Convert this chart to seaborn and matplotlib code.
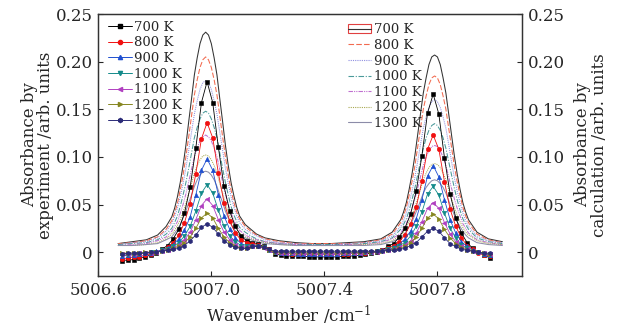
import matplotlib
matplotlib.use("Agg")
import matplotlib.pyplot as plt
from matplotlib.lines import Line2D
from matplotlib.patches import Patch
from matplotlib.legend_handler import HandlerTuple
import seaborn as sns

sns.set_style("ticks")
plt.rcParams['font.family'] = ['DejaVu Serif']
plt.rcParams['mathtext.fontset'] = 'dejavuserif'

temps = ["700 K", "800 K", "900 K", "1000 K", "1100 K", "1200 K", "1300 K"]

# measured spectra (left axis)
x_exp = [5006.685, 5006.705, 5006.725, 5006.745, 5006.765, 5006.785, 5006.805, 5006.825, 5006.845, 5006.865,
         5006.885, 5006.905, 5006.925, 5006.945, 5006.965, 5006.985, 5007.005, 5007.025, 5007.045, 5007.065,
         5007.085, 5007.105, 5007.125, 5007.145, 5007.165, 5007.185, 5007.205, 5007.225, 5007.245, 5007.265,
         5007.285, 5007.305, 5007.325, 5007.345, 5007.365, 5007.385, 5007.405, 5007.425, 5007.445, 5007.465,
         5007.485, 5007.505, 5007.525, 5007.545, 5007.565, 5007.585, 5007.605, 5007.625, 5007.645, 5007.665,
         5007.685, 5007.705, 5007.725, 5007.745, 5007.765, 5007.785, 5007.805, 5007.825, 5007.845, 5007.865,
         5007.885, 5007.905, 5007.925, 5007.945, 5007.965, 5007.985]

exp_700 = [-0.009, -0.008, -0.008, -0.006, -0.005, -0.003, -0.001, 0.003, 0.007, 0.014,
           0.024, 0.041, 0.068, 0.109, 0.157, 0.179, 0.157, 0.110, 0.069, 0.043,
           0.027, 0.017, 0.012, 0.010, 0.009, 0.006, 0.003, -0.002, -0.003, -0.004,
           -0.004, -0.004, -0.004, -0.005, -0.005, -0.005, -0.005, -0.005, -0.005, -0.004,
           -0.004, -0.004, -0.003, -0.002, -0.001, 0.000, 0.002, 0.006, 0.009, 0.016,
           0.025, 0.040, 0.064, 0.101, 0.146, 0.166, 0.145, 0.099, 0.061, 0.036,
           0.020, 0.010, 0.004, 0.000, -0.003, -0.006]
exp_800 = [-0.007, -0.006, -0.005, -0.005, -0.003, -0.002, 0.000, 0.002, 0.005, 0.010,
           0.018, 0.031, 0.051, 0.082, 0.119, 0.136, 0.120, 0.083, 0.052, 0.033,
           0.020, 0.013, 0.010, 0.009, 0.008, 0.005, 0.003, 0.000, -0.001, -0.001,
           -0.002, -0.002, -0.002, -0.002, -0.002, -0.002, -0.002, -0.002, -0.002, -0.002,
           -0.002, -0.001, -0.001, -0.001, 0.000, 0.001, 0.002, 0.004, 0.007, 0.011,
           0.018, 0.030, 0.047, 0.075, 0.108, 0.123, 0.108, 0.074, 0.045, 0.027,
           0.015, 0.007, 0.003, -0.001, -0.003, -0.004]
exp_900 = [-0.004, -0.003, -0.003, -0.002, -0.001, -0.001, 0.001, 0.002, 0.004, 0.008,
           0.014, 0.023, 0.037, 0.060, 0.086, 0.098, 0.086, 0.060, 0.038, 0.024,
           0.015, 0.009, 0.007, 0.007, 0.007, 0.005, 0.002, 0.000, -0.001, -0.001,
           -0.001, -0.002, -0.002, -0.002, -0.002, -0.002, -0.002, -0.002, -0.002, -0.001,
           -0.001, -0.001, -0.001, 0.000, 0.000, 0.001, 0.002, 0.003, 0.005, 0.008,
           0.014, 0.022, 0.035, 0.055, 0.080, 0.091, 0.079, 0.055, 0.034, 0.020,
           0.011, 0.006, 0.002, 0.000, -0.002, -0.003]
exp_1000 = [-0.003, -0.003, -0.002, -0.002, -0.001, 0.000, 0.000, 0.002, 0.003, 0.006,
            0.010, 0.017, 0.027, 0.043, 0.062, 0.071, 0.062, 0.044, 0.027, 0.017,
            0.011, 0.007, 0.006, 0.007, 0.006, 0.005, 0.002, 0.000, 0.000, -0.001,
            -0.001, -0.001, -0.001, -0.001, -0.001, -0.001, -0.001, -0.001, -0.001, -0.001,
            -0.001, -0.001, 0.000, 0.000, 0.000, 0.001, 0.001, 0.003, 0.004, 0.007,
            0.010, 0.017, 0.027, 0.042, 0.061, 0.069, 0.060, 0.041, 0.025, 0.015,
            0.008, 0.004, 0.001, 0.000, -0.002, -0.003]
exp_1100 = [-0.002, -0.002, -0.002, -0.001, -0.001, -0.001, 0.000, 0.001, 0.002, 0.004,
            0.008, 0.013, 0.021, 0.034, 0.049, 0.056, 0.049, 0.034, 0.021, 0.013,
            0.008, 0.005, 0.005, 0.006, 0.006, 0.004, 0.002, 0.000, -0.001, -0.001,
            -0.001, -0.001, -0.001, -0.001, -0.001, -0.001, -0.001, -0.001, -0.001, -0.001,
            -0.001, -0.001, -0.001, 0.000, 0.000, 0.000, 0.001, 0.002, 0.003, 0.005,
            0.008, 0.012, 0.020, 0.032, 0.046, 0.052, 0.046, 0.031, 0.019, 0.011,
            0.006, 0.003, 0.001, 0.000, -0.001, -0.002]
exp_1200 = [-0.001, -0.001, -0.001, -0.001, 0.000, 0.000, 0.000, 0.001, 0.002, 0.004,
            0.006, 0.010, 0.016, 0.025, 0.036, 0.041, 0.036, 0.025, 0.016, 0.010,
            0.006, 0.004, 0.004, 0.006, 0.006, 0.005, 0.002, 0.000, 0.000, 0.000,
            0.000, 0.000, 0.000, 0.000, 0.000, 0.000, 0.000, 0.000, 0.000, 0.000,
            0.000, 0.000, 0.000, 0.000, 0.000, 0.001, 0.001, 0.002, 0.003, 0.004,
            0.006, 0.010, 0.016, 0.025, 0.036, 0.040, 0.035, 0.024, 0.015, 0.009,
            0.005, 0.002, 0.001, 0.000, -0.001, -0.002]
exp_1300 = [-0.002, -0.001, -0.001, -0.001, -0.001, 0.000, 0.000, 0.001, 0.002, 0.003,
            0.004, 0.007, 0.012, 0.018, 0.026, 0.030, 0.026, 0.019, 0.012, 0.008,
            0.005, 0.004, 0.004, 0.006, 0.006, 0.005, 0.003, 0.001, 0.001, 0.001,
            0.001, 0.001, 0.001, 0.001, 0.001, 0.001, 0.001, 0.001, 0.001, 0.001,
            0.001, 0.001, 0.001, 0.001, 0.001, 0.001, 0.001, 0.002, 0.002, 0.003,
            0.004, 0.007, 0.010, 0.016, 0.022, 0.025, 0.022, 0.015, 0.009, 0.006,
            0.003, 0.002, 0.001, 0.000, -0.001, -0.001]

# calculated spectra (right axis)
x_calc = [5006.67, 5006.72, 5006.77, 5006.81, 5006.84,
          5006.86, 5006.87, 5006.88, 5006.89, 5006.90, 5006.91, 5006.92, 5006.93, 5006.94, 5006.95,
          5006.96, 5006.97, 5006.98, 5006.99, 5007.00, 5007.01, 5007.02, 5007.03, 5007.04, 5007.05,
          5007.06, 5007.07, 5007.08, 5007.09, 5007.10,
          5007.12, 5007.14, 5007.16, 5007.19, 5007.24, 5007.30, 5007.36, 5007.42, 5007.48, 5007.54,
          5007.60, 5007.64,
          5007.67, 5007.68, 5007.69, 5007.70, 5007.71, 5007.72, 5007.73, 5007.74, 5007.75, 5007.76,
          5007.77, 5007.78, 5007.79, 5007.80, 5007.81, 5007.82, 5007.83, 5007.84, 5007.85, 5007.86,
          5007.87, 5007.88, 5007.89, 5007.90, 5007.91,
          5007.94, 5007.98, 5008.03]

calc_700 = [0.009, 0.011, 0.013, 0.018, 0.027,
            0.037, 0.046, 0.058, 0.073, 0.091, 0.112, 0.137, 0.161, 0.186, 0.204,
            0.219, 0.228, 0.231, 0.228, 0.219, 0.204, 0.186, 0.161, 0.137, 0.112,
            0.091, 0.073, 0.059, 0.047, 0.038,
            0.029, 0.024, 0.019, 0.015, 0.012, 0.010, 0.009, 0.009, 0.010, 0.011,
            0.014, 0.021,
            0.034, 0.042, 0.052, 0.066, 0.082, 0.101, 0.123, 0.145, 0.167, 0.183,
            0.197, 0.205, 0.207, 0.205, 0.197, 0.183, 0.167, 0.145, 0.123, 0.101,
            0.082, 0.066, 0.052, 0.042, 0.034,
            0.021, 0.014, 0.011]
calc_800 = [0.009, 0.010, 0.012, 0.016, 0.024,
            0.033, 0.041, 0.051, 0.065, 0.081, 0.100, 0.121, 0.143, 0.165, 0.181,
            0.194, 0.202, 0.205, 0.202, 0.194, 0.181, 0.165, 0.143, 0.121, 0.100,
            0.081, 0.065, 0.052, 0.042, 0.035,
            0.027, 0.022, 0.018, 0.014, 0.011, 0.009, 0.009, 0.009, 0.009, 0.010,
            0.013, 0.019,
            0.031, 0.038, 0.047, 0.060, 0.074, 0.090, 0.110, 0.130, 0.150, 0.164,
            0.176, 0.183, 0.185, 0.183, 0.176, 0.164, 0.150, 0.130, 0.110, 0.090,
            0.074, 0.060, 0.047, 0.038, 0.031,
            0.019, 0.013, 0.010]
calc_900 = [0.008, 0.010, 0.011, 0.015, 0.022,
            0.030, 0.037, 0.046, 0.058, 0.072, 0.088, 0.107, 0.126, 0.145, 0.159,
            0.171, 0.178, 0.180, 0.178, 0.171, 0.159, 0.145, 0.126, 0.107, 0.088,
            0.072, 0.058, 0.047, 0.038, 0.031,
            0.024, 0.020, 0.017, 0.013, 0.010, 0.009, 0.008, 0.008, 0.009, 0.010,
            0.012, 0.017,
            0.027, 0.033, 0.041, 0.052, 0.064, 0.078, 0.095, 0.113, 0.130, 0.142,
            0.152, 0.158, 0.160, 0.158, 0.152, 0.142, 0.130, 0.113, 0.095, 0.078,
            0.064, 0.052, 0.041, 0.033, 0.027,
            0.017, 0.012, 0.010]
calc_1000 = [0.008, 0.009, 0.010, 0.013, 0.019,
             0.025, 0.031, 0.038, 0.048, 0.060, 0.073, 0.088, 0.104, 0.120, 0.131,
             0.140, 0.146, 0.148, 0.146, 0.140, 0.131, 0.120, 0.104, 0.088, 0.073,
             0.060, 0.048, 0.039, 0.032, 0.026,
             0.021, 0.017, 0.014, 0.011, 0.009, 0.008, 0.008, 0.008, 0.008, 0.009,
             0.011, 0.015,
             0.024, 0.029, 0.035, 0.044, 0.055, 0.067, 0.081, 0.095, 0.109, 0.120,
             0.128, 0.133, 0.135, 0.133, 0.128, 0.120, 0.109, 0.095, 0.081, 0.067,
             0.055, 0.044, 0.035, 0.029, 0.024,
             0.015, 0.011, 0.009]
calc_1100 = [0.007, 0.008, 0.009, 0.012, 0.016,
             0.022, 0.027, 0.032, 0.041, 0.050, 0.061, 0.074, 0.087, 0.100, 0.109,
             0.117, 0.121, 0.123, 0.121, 0.117, 0.109, 0.100, 0.087, 0.074, 0.061,
             0.050, 0.041, 0.033, 0.028, 0.023,
             0.018, 0.015, 0.013, 0.011, 0.009, 0.008, 0.007, 0.007, 0.008, 0.008,
             0.010, 0.014,
             0.020, 0.025, 0.030, 0.038, 0.046, 0.056, 0.067, 0.079, 0.091, 0.100,
             0.106, 0.111, 0.112, 0.111, 0.106, 0.100, 0.091, 0.079, 0.067, 0.056,
             0.046, 0.038, 0.030, 0.025, 0.020,
             0.013, 0.010, 0.008]
calc_1200 = [0.007, 0.007, 0.008, 0.010, 0.014,
             0.019, 0.023, 0.028, 0.034, 0.042, 0.051, 0.062, 0.072, 0.083, 0.091,
             0.097, 0.101, 0.102, 0.101, 0.097, 0.091, 0.083, 0.072, 0.062, 0.051,
             0.042, 0.034, 0.029, 0.024, 0.020,
             0.016, 0.014, 0.012, 0.010, 0.008, 0.007, 0.007, 0.007, 0.007, 0.008,
             0.009, 0.012,
             0.018, 0.021, 0.026, 0.032, 0.039, 0.047, 0.056, 0.066, 0.076, 0.083,
             0.089, 0.092, 0.093, 0.092, 0.089, 0.083, 0.076, 0.066, 0.056, 0.047,
             0.039, 0.032, 0.026, 0.021, 0.018,
             0.012, 0.009, 0.008]
calc_1300 = [0.007, 0.007, 0.008, 0.009, 0.013,
             0.016, 0.020, 0.024, 0.029, 0.036, 0.043, 0.052, 0.060, 0.069, 0.076,
             0.081, 0.084, 0.085, 0.084, 0.081, 0.076, 0.069, 0.060, 0.052, 0.043,
             0.036, 0.029, 0.024, 0.021, 0.017,
             0.015, 0.013, 0.011, 0.009, 0.008, 0.007, 0.007, 0.007, 0.007, 0.007,
             0.008, 0.011,
             0.015, 0.018, 0.022, 0.027, 0.032, 0.039, 0.046, 0.054, 0.062, 0.068,
             0.072, 0.075, 0.076, 0.075, 0.072, 0.068, 0.062, 0.054, 0.046, 0.039,
             0.032, 0.027, 0.022, 0.018, 0.015,
             0.010, 0.008, 0.007]

exp_series = [exp_700, exp_800, exp_900, exp_1000, exp_1100, exp_1200, exp_1300]
calc_series = [calc_700, calc_800, calc_900, calc_1000, calc_1100, calc_1200, calc_1300]

exp_colors = ["#000000", "#f01010", "#1f4fd0", "#138a8a", "#b03fc0", "#868620", "#2b2b78"]
exp_markers = ["s", "o", "^", "v", "<", ">", "h"]
calc_colors = ["#333333", "#f26a4f", "#8f8fe0", "#4a9a9a", "#c070d0", "#a8a850", "#8c8ca8"]
calc_styles = ["-", (0, (5, 2)), (0, (1, 1)), (0, (5, 1.5, 1, 1.5)), (0, (4, 1, 1, 1, 1, 1)), (0, (1, 1)), "-"]

fig = plt.figure(figsize=(6.18, 3.27), dpi=100)
ax = fig.add_axes([0.159, 0.156, 0.686, 0.801])
ax2 = ax.twinx()
ax.set_zorder(ax2.get_zorder() + 1)
ax.patch.set_visible(False)

for lab, ys, col, ls in zip(temps, calc_series, calc_colors, calc_styles):
    sns.lineplot(x=x_calc, y=ys, ax=ax2, color=col, linestyle=ls, linewidth=0.75, legend=False)

for lab, ys, col, mk in zip(temps, exp_series, exp_colors, exp_markers):
    sns.lineplot(x=x_exp, y=ys, ax=ax, color=col, marker=mk, markersize=3.2,
                 markeredgecolor=col, markeredgewidth=0.4, linewidth=0.6, legend=False)

for a in (ax, ax2):
    a.set_xlim(5006.6, 5008.1)
    a.set_ylim(-0.025, 0.25)
    a.set_yticks([0, 0.05, 0.10, 0.15, 0.20, 0.25])
    a.set_yticklabels(["0", "0.05", "0.10", "0.15", "0.20", "0.25"], fontsize=12)
    a.tick_params(direction="in", length=3.5, width=0.8, pad=4)
ax.set_xticks([5006.6, 5007.0, 5007.4, 5007.8])
ax.set_xticklabels(["5006.6", "5007.0", "5007.4", "5007.8"], fontsize=12)
ax.tick_params(axis="x", top=False)
ax.tick_params(axis="y", right=False)

ax.set_xlabel("Wavenumber /cm$^{-1}$", fontsize=12)
ax.xaxis.set_label_coords(0.45, -0.105)
ax.set_ylabel("Absorbance by\nexperiment /arb. units", fontsize=12, linespacing=0.95)
ax.yaxis.set_label_coords(-0.104, 0.5)
ax2.set_ylabel("Absorbance by\ncalculation /arb. units", fontsize=12, linespacing=0.95)
ax2.yaxis.set_label_coords(1.123, 0.5)

for s in list(ax.spines.values()) + list(ax2.spines.values()):
    s.set_linewidth(0.9)
    s.set_color("#333333")

exp_handles = [Line2D([], [], color=c, marker=m, markersize=3, markeredgecolor=c, linewidth=0.7)
               for c, m in zip(exp_colors, exp_markers)]
ax.legend(exp_handles, temps, loc="upper left", bbox_to_anchor=(0.02, 0.98), frameon=False,
          fontsize=9.5, handlelength=1.8, handletextpad=0.2, labelspacing=0.2, borderpad=0.1,
          borderaxespad=0)

calc_handles = [Line2D([], [], color=c, linestyle=ls, linewidth=0.8) for c, ls in zip(calc_colors, calc_styles)]
calc_handles[0] = (Patch(facecolor="none", edgecolor="#e04040", linewidth=0.8), calc_handles[0])
ax2.legend(calc_handles, temps, loc="upper left", bbox_to_anchor=(0.585, 0.97), frameon=False,
           fontsize=9.5, handlelength=1.8, handletextpad=0.2, labelspacing=0.2, borderpad=0.1,
           borderaxespad=0, handler_map={tuple: HandlerTuple(ndivide=1)})

fig.savefig("out.png", dpi=100)
